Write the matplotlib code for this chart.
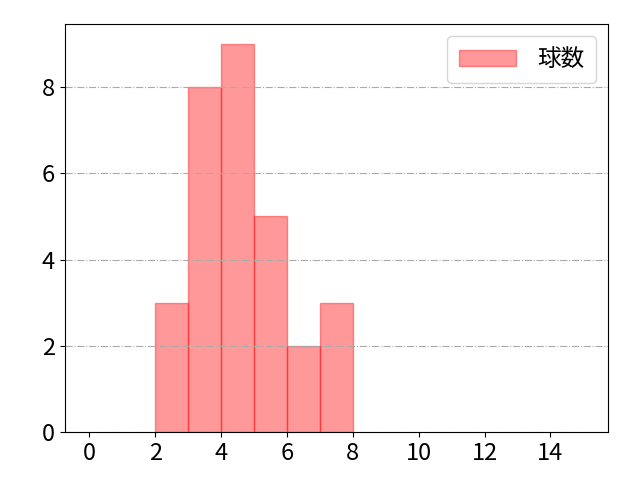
import matplotlib
matplotlib.use("Agg")
import matplotlib.pyplot as plt

plt.rcParams['font.family'] = ['Noto Sans CJK JP', 'DejaVu Sans']

bin_edges = [2, 3, 4, 5, 6, 7, 8]
counts = [3, 8, 9, 5, 2, 3]
label = "球数"

fig, ax = plt.subplots(figsize=(6.4, 4.8), dpi=100)
fig.subplots_adjust(left=0.101, right=0.95, top=0.949, bottom=0.1)
ax.hist(bin_edges[:-1], bins=bin_edges, weights=counts, color="red", alpha=0.4,
        edgecolor="red", linewidth=1, label=label)
ax.set_xlim(-0.75, 15.75)
ax.set_xticks(range(0, 15, 2))
ax.yaxis.grid(True, linestyle="-.", color="#aaaaaa", linewidth=0.8)
ax.tick_params(labelsize=17)
ax.legend(loc="upper right", fontsize=17, handlelength=2.4, handletextpad=0.9,
          borderpad=0.5)
fig.savefig("out.png")
